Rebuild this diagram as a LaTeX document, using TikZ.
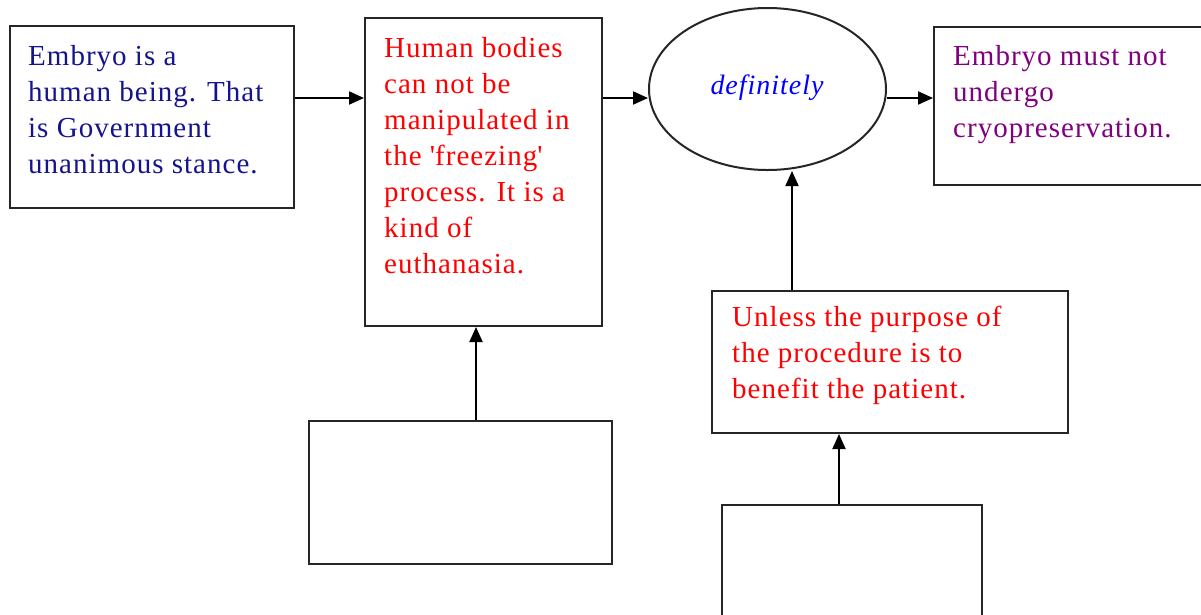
\documentclass[tikz,border=0pt]{standalone}
\usepackage{fontspec}
\setmainfont{Liberation Serif}[LetterSpace=3.5]
\usetikzlibrary{arrows.meta,shapes.geometric}
\definecolor{navytext}{RGB}{20,20,140}
\definecolor{redtext}{RGB}{255,0,0}
\definecolor{purpletext}{RGB}{128,0,128}
\definecolor{bluetext}{RGB}{0,0,255}
\tikzset{
  box/.style={draw=black!85, line width=2pt, fill=white, inner sep=0pt},
  label/.style={anchor=north west, inner sep=0pt, align=left,
    font=\fontsize{29}{36}\selectfont},
  arr/.style={draw=black, line width=2pt, -{Triangle[length=15pt,width=13pt]}}
}
\begin{document}
\begin{tikzpicture}[x=1pt,y=-1pt]
\clip (0,0) rectangle (1201,614);
\fill[white] (0,0) rectangle (1201,614);

% boxes
\node[box, minimum width=284pt, minimum height=182pt] (a) at (152,117) {};
\node[box, minimum width=237pt, minimum height=308pt] (b) at (483.5,172) {};
\node[box, ellipse, minimum width=237pt, minimum height=162pt] (c) at (767.5,89) {};
\node[box, minimum width=290pt, minimum height=158pt, anchor=north west] (d) at (933,26) {};
\node[box, minimum width=356pt, minimum height=142pt] (e) at (890,362) {};
\node[box, minimum width=303pt, minimum height=143pt] (f) at (460.5,492.5) {};
\node[box, minimum width=260pt, minimum height=130pt, anchor=north west] (g) at (721,504) {};

% texts
\node[label, text=navytext] (ta) at (28,45)
  {Embryo is a\\human being. That\\is Government\\unanimous stance.};
\node[label, text=redtext] (tb) at (384,37)
  {Human bodies\\can not be\\manipulated in\\the \textquotesingle freezing\textquotesingle\\process. It is a\\kind of\\euthanasia.};
\node[text=bluetext, inner sep=0pt, font=\fontsize{28}{32}\selectfont\itshape] (tc) at (767,88) {definitely};
\node[label, text=purpletext] (td) at (953,45)
  {Embryo must not\\undergo\\cryopreservation.};
\node[label, text=redtext] (te) at (732,306)
  {Unless the purpose of\\the procedure is to\\benefit the patient.};

% connectors
\draw[arr] (a.east |- 0,98) -- (b.west |- 0,98);
\draw[arr] (b.east |- 0,98) -- (c.west |- 0,98);
\draw[arr] (c.east |- 0,98) -- (d.west |- 0,98);
\draw[arr] (e.north -| 792,0) -- (c.south -| 792,0);
\draw[arr] (f.north -| 476,0) -- (b.south -| 476,0);
\draw[arr] (g.north -| 839,0) -- (e.south -| 839,0);
\end{tikzpicture}
\end{document}
